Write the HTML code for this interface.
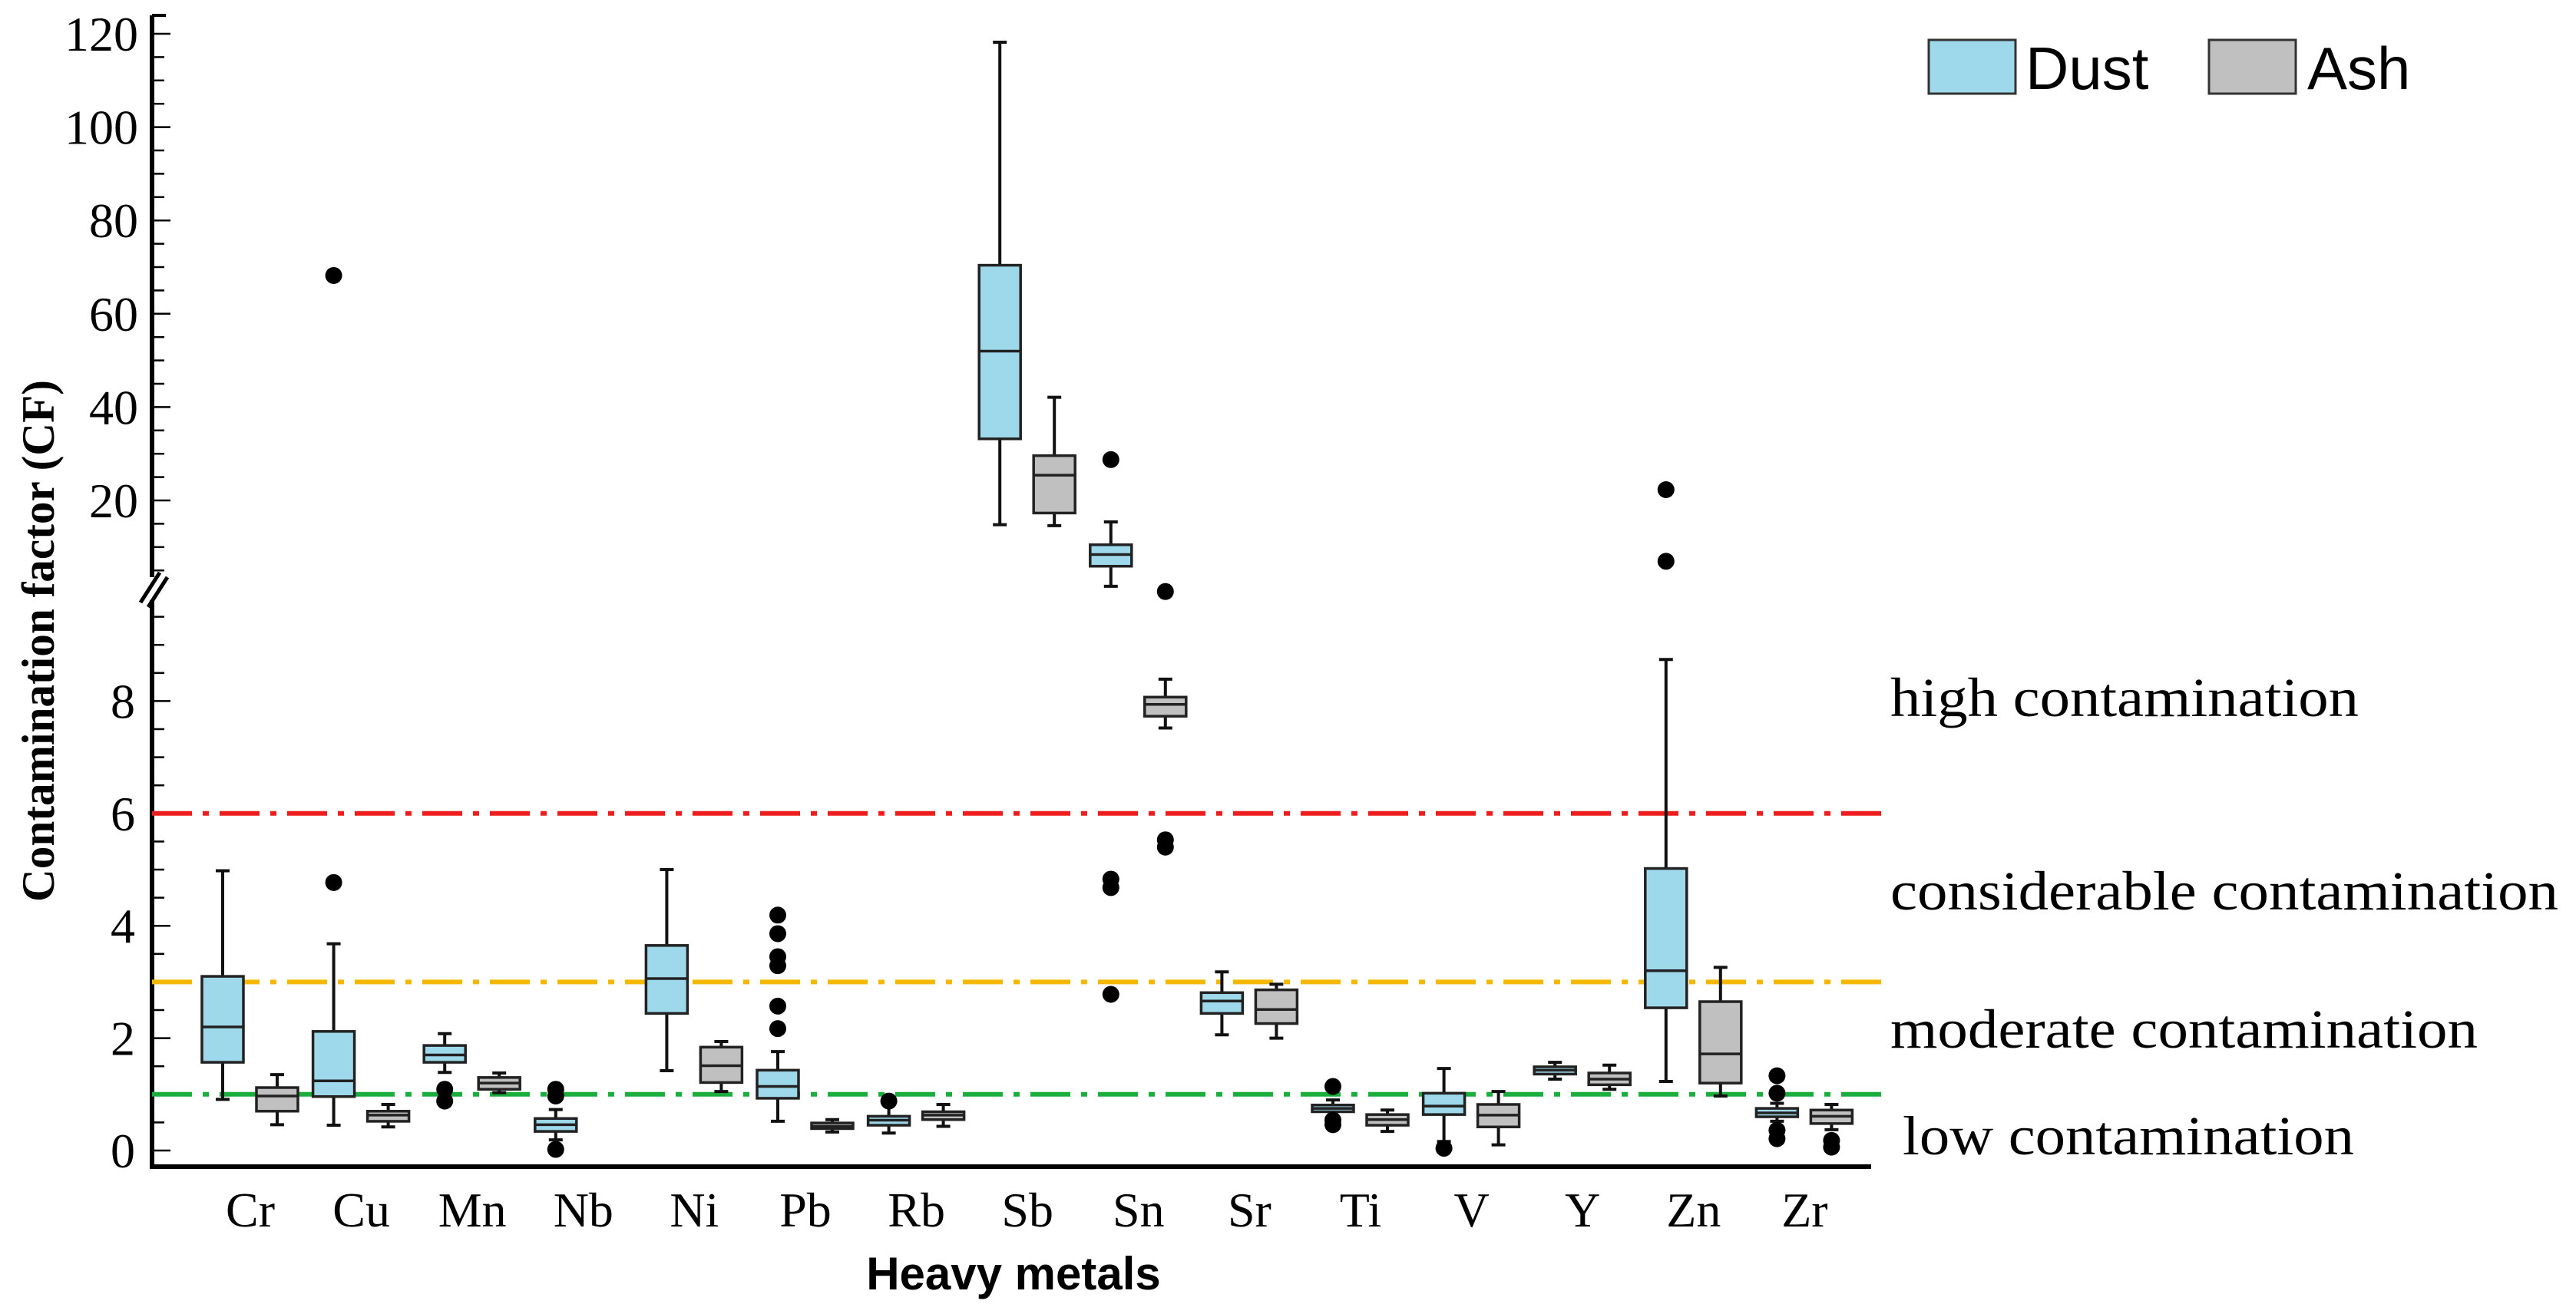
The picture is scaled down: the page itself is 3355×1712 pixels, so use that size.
<!DOCTYPE html>
<html><head><meta charset="utf-8"><style>
html,body{margin:0;padding:0;background:#fff;}
svg{display:block;}
</style></head><body>
<svg id="chart" width="3355" height="1712" viewBox="0 0 3355 1712" xmlns="http://www.w3.org/2000/svg">
<g id="axes"></g>
<g id="reflines"></g>
<g id="boxes"></g>
<text transform="translate(70,835) rotate(-90)" text-anchor="middle" font-family="Liberation Serif, serif" font-weight="bold" font-size="60" textLength="680" lengthAdjust="spacingAndGlyphs">Contamination factor (CF)</text>
<text x="1320" y="1680" text-anchor="middle" font-family="Liberation Sans, sans-serif" font-weight="bold" font-size="60">Heavy metals</text>
<g>
<rect x="2512" y="52" width="113" height="70" fill="#9dd9ea" stroke="#333" stroke-width="3"/>
<text x="2638" y="116" font-family="Liberation Sans, sans-serif" font-size="78">Dust</text>
<rect x="2877" y="52" width="113" height="70" fill="#c0c0c0" stroke="#333" stroke-width="3"/>
<text x="3005" y="116" font-family="Liberation Sans, sans-serif" font-size="78">Ash</text>
</g>
<g font-family="Liberation Serif, serif" font-size="72">
<text x="2462" y="933" textLength="610" lengthAdjust="spacingAndGlyphs">high contamination</text>
<text x="2462" y="1185" textLength="870" lengthAdjust="spacingAndGlyphs">considerable contamination</text>
<text x="2462" y="1365" textLength="765" lengthAdjust="spacingAndGlyphs">moderate contamination</text>
<text x="2478" y="1504" textLength="588" lengthAdjust="spacingAndGlyphs">low contamination</text>
</g>
</svg>
<script>
const categories=["Cr","Cu","Mn","Nb","Ni","Pb","Rb","Sb","Sn","Sr","Ti","V","Y","Zn","Zr"];
// [low, q1, median, q3, high]
const dustStats=[[0.91,1.57,2.2,3.1,4.98],[0.45,0.96,1.24,2.12,3.68],[1.39,1.57,1.70,1.87,2.08],[0.19,0.34,0.46,0.57,0.73],[1.42,2.44,3.06,3.65,5.0],[0.52,0.93,1.14,1.43,1.76],[0.31,0.45,0.54,0.61,0.85],[14.8,33.2,52.0,70.4,118.2],[1.6,5.9,8.4,10.5,15.4],[2.06,2.44,2.66,2.81,3.18],[0.60,0.69,0.75,0.81,0.90],[0.16,0.64,0.79,1.02,1.46],[1.27,1.36,1.43,1.49,1.57],[1.23,2.54,3.20,5.02,8.74],[0.52,0.60,0.67,0.75,0.84]];
const ashStats=[[0.46,0.7,0.97,1.12,1.35],[0.42,0.52,0.63,0.70,0.82],[1.03,1.09,1.20,1.30,1.38],null,[1.05,1.21,1.51,1.84,1.94],[0.33,0.39,0.43,0.49,0.55],[0.43,0.55,0.63,0.69,0.82],[14.6,17.3,25.4,29.6,42.1],[7.52,7.73,7.94,8.07,8.39],[2.0,2.26,2.51,2.86,2.96],[0.34,0.45,0.55,0.64,0.72],[0.10,0.42,0.63,0.82,1.05],[1.09,1.17,1.27,1.38,1.52],[0.97,1.20,1.72,2.65,3.26],[0.37,0.48,0.61,0.72,0.82]];
// which axis segment: "L" lower (0-10), "U" upper (broken, 20-120)
const dustPanel=["L","L","L","L","L","L","L","U","U","L","L","L","L","L","L"];
const ashPanel=["L","L","L","L","L","L","L","U","L","L","L","L","L","L","L"];
// outliers: [categoryIndex, value, panel]
const dustOutliers=[[1,4.77,"L"],[1,68.2,"U"],[2,1.09,"L"],[2,0.88,"L"],[3,1.09,"L"],[3,0.97,"L"],[3,0.02,"L"],[5,4.19,"L"],[5,3.86,"L"],[5,3.45,"L"],[5,3.29,"L"],[5,2.57,"L"],[5,2.17,"L"],[6,0.88,"L"],[8,28.75,"U"],[8,4.83,"L"],[8,4.68,"L"],[8,2.78,"L"],[10,1.14,"L"],[10,0.54,"L"],[10,0.46,"L"],[11,0.04,"L"],[13,22.3,"U"],[13,6.96,"U"],[14,1.33,"L"],[14,1.02,"L"],[14,0.36,"L"],[14,0.21,"L"]];
const ashOutliers=[[8,9.95,"L"],[8,5.53,"L"],[8,5.40,"L"],[14,0.18,"L"],[14,0.06,"L"]];
const lowerTicks=[0,2,4,6,8];
const upperTicks=[20,40,60,80,100,120];
const refValues=[6,3,1];
const refColors=["#ee1c1c","#f5b800","#1aae3c"];
const refNames=["ref-line-high","ref-line-moderate","ref-line-low"];

const NS="http://www.w3.org/2000/svg";
function yL(v){return 1499-v*73.2;}
function yU(v){return 652-(v-20)*6.08;}
function yP(v,p){return p==="U"?yU(v):yL(v);}
function xD(i){return 290+i*144.6;}
function xA(i){return xD(i)+71;}
function mk(tag,attrs,parent){const e=document.createElementNS(NS,tag);for(const k in attrs)e.setAttribute(k,attrs[k]);parent.appendChild(e);return e;}

const axes=document.getElementById('axes');
const ax=198;
let yl=mk('line',{x1:ax,y1:20,x2:ax,y2:1522,stroke:'#000','stroke-width':6},axes);


let xl=mk('line',{x1:195,y1:1520,x2:2437,y2:1520,stroke:'#000','stroke-width':6},axes);


mk('line',{x1:ax,y1:20,x2:216,y2:20,stroke:'#000','stroke-width':4},axes);
for(let v=0;v<=10.01;v+=0.5){const y=yL(v);if(y<775)continue;mk('line',{x1:ax,y1:y,x2:(v%2===0?222:214),y2:y,stroke:'#000','stroke-width':2.5},axes);}
for(let v=5;v<=120;v+=5){const y=yU(v);if(y>765)continue;mk('line',{x1:ax,y1:y,x2:(v%20===0?222:214),y2:y,stroke:'#000','stroke-width':2.5},axes);}
lowerTicks.forEach(v=>{const t=mk('text',{x:176,y:yL(v)+22,'text-anchor':'end','font-family':'Liberation Serif, serif','font-size':64},axes);t.textContent=v;

});
upperTicks.forEach(v=>{const t=mk('text',{x:180,y:yU(v)+22,'text-anchor':'end','font-family':'Liberation Serif, serif','font-size':64},axes);t.textContent=v;

});
mk('rect',{x:186,y:752,width:24,height:30,fill:'#fff'},axes);
let b1=mk('line',{x1:183,y1:785,x2:208,y2:746,stroke:'#000','stroke-width':5},axes);


mk('line',{x1:193,y1:791,x2:218,y2:752,stroke:'#000','stroke-width':5},axes);
categories.forEach((c,i)=>{const t=mk('text',{x:xD(i)+36,y:1598,'text-anchor':'middle','font-family':'Liberation Serif, serif','font-size':64},axes);t.textContent=c;

});

const rl=document.getElementById('reflines');
refValues.forEach((v,i)=>{const l=mk('line',{x1:ax,y1:yL(v),x2:2458,y2:yL(v),stroke:refColors[i],'stroke-width':6,'stroke-dasharray':'52,14,8,14'},rl);

});

const bx=document.getElementById('boxes');
function drawBox(cx,s,p,fill,name){
  const g=mk('g',{},bx);
  
  
  const w=54,[lo,q1,md,q3,hi]=s;
  mk('line',{x1:cx,y1:yP(hi,p),x2:cx,y2:yP(lo,p),stroke:'#111','stroke-width':4},g);
  mk('line',{x1:cx-9,y1:yP(hi,p),x2:cx+9,y2:yP(hi,p),stroke:'#111','stroke-width':4},g);
  mk('line',{x1:cx-9,y1:yP(lo,p),x2:cx+9,y2:yP(lo,p),stroke:'#111','stroke-width':4},g);
  mk('rect',{x:cx-w/2,y:yP(q3,p),width:w,height:Math.max(2,yP(q1,p)-yP(q3,p)),fill:fill,stroke:'#222','stroke-width':3.5},g);
  mk('line',{x1:cx-w/2,y1:yP(md,p),x2:cx+w/2,y2:yP(md,p),stroke:'#222','stroke-width':3.5},g);
}
categories.forEach((c,i)=>{
  if(dustStats[i])drawBox(xD(i),dustStats[i],dustPanel[i],'#9dd9ea','box-dust-'+c.toLowerCase());
  if(ashStats[i])drawBox(xA(i),ashStats[i],ashPanel[i],'#c0c0c0','box-ash-'+c.toLowerCase());
});
dustOutliers.forEach(o=>{const e=mk('circle',{cx:xD(o[0]),cy:yP(o[1],o[2]),r:11,fill:'#000'},bx);

});
ashOutliers.forEach(o=>{const e=mk('circle',{cx:xA(o[0]),cy:yP(o[1],o[2]),r:11,fill:'#000'},bx);

});
</script>
</body></html>
